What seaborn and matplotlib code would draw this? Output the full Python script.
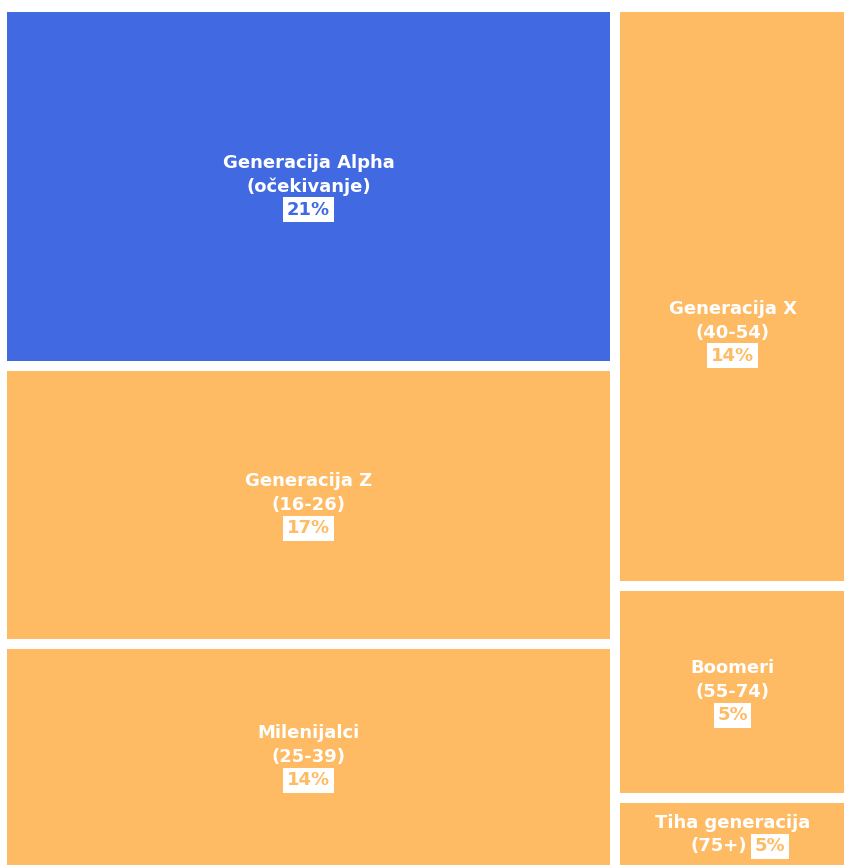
import matplotlib
matplotlib.use("Agg")
import matplotlib.pyplot as plt
from matplotlib.patches import Rectangle
import seaborn as sns

# ---- data ----
names = ["Generacija Alpha\n(očekivanje)", "Generacija Z\n(16-26)", "Milenijalci\n(25-39)",
         "Generacija X\n(40-54)", "Boomeri\n(55-74)", "Tiha generacija\n(75+)"]
shares = [21, 17, 14, 14, 5, 5]                 # printed percentages
tile_sizes = [30.1, 23.3, 18.9, 18.6, 6.8, 2.3]  # tile areas
columns = [0, 0, 0, 1, 1, 1]                      # which column each tile belongs to
highlight = [True, False, False, False, False, False]

sns.set_theme(style="white")
plt.rcParams['font.family'] = ['DejaVu Sans']
palette = sns.color_palette(["#4169E1", "#FEBB63"])

W, H = 845, 865
fig = plt.figure(figsize=(W / 100, H / 100), dpi=100)
fig.patch.set_facecolor("white")
ax = fig.add_axes([2 / W, -5 / H, 848 / W, 863 / H])
ax.set_xlim(0, 1)
ax.set_ylim(1, 0)
ax.axis("off")

total = sum(tile_sizes)
ncol = max(columns) + 1
col_sums = [sum(s for s, c in zip(tile_sizes, columns) if c == k) for k in range(ncol)]

PX = 0.72  # points per pixel at 100 dpi
label_nudge_px = {3: 36}  # label of the tall tile sits a bit below centre

x0 = 0.0
tiles = []
for k in range(ncol):
    cw = col_sums[k] / total
    y0 = 0.0
    for i, (s, c) in enumerate(zip(tile_sizes, columns)):
        if c != k:
            continue
        h = s / col_sums[k]
        tiles.append((i, x0, y0, cw, h))
        y0 += h
    x0 += cw

fig.canvas.draw()
for i, x, y, w, h in tiles:
    color = palette[0] if highlight[i] else palette[1]
    ax.add_patch(Rectangle((x, y), w, h, facecolor=color, edgecolor="white",
                           linewidth=10 * PX))
    cx, cy = x + w / 2, y + h / 2
    p1 = ax.transData.transform((0, y))
    p2 = ax.transData.transform((0, y + h))
    hpx = abs(p1[1] - p2[1])
    dy = -label_nudge_px.get(i, 0) * PX
    lines = names[i].split("\n")
    txt_kw = dict(xycoords="data", textcoords="offset points", ha="center", va="center",
                  color="white", fontsize=13, fontweight="bold")
    box_kw = dict(boxstyle="square,pad=0.2", facecolor="white", edgecolor="none")
    pct = f"{shares[i]}%"
    if hpx > 110:
        ax.annotate(lines[0], (cx, cy), xytext=(0, 24 * PX + dy), **txt_kw)
        ax.annotate(lines[1], (cx, cy), xytext=(0, dy), **txt_kw)
        kw = dict(txt_kw); kw["color"] = color
        ax.annotate(pct, (cx, cy), xytext=(0, -23 * PX + dy), bbox=box_kw, **kw)
    else:
        ax.annotate(lines[0], (cx, cy), xytext=(0, 11 * PX), **txt_kw)
        kw = dict(txt_kw); kw["ha"] = "right"
        ax.annotate(lines[1], (cx, cy), xytext=(14 * PX, -12 * PX), **kw)
        kw = dict(txt_kw); kw["ha"] = "left"; kw["color"] = color
        ax.annotate(pct, (cx, cy), xytext=(22 * PX, -12 * PX), bbox=box_kw, **kw)

fig.savefig("out.png", dpi=100, facecolor="white")
